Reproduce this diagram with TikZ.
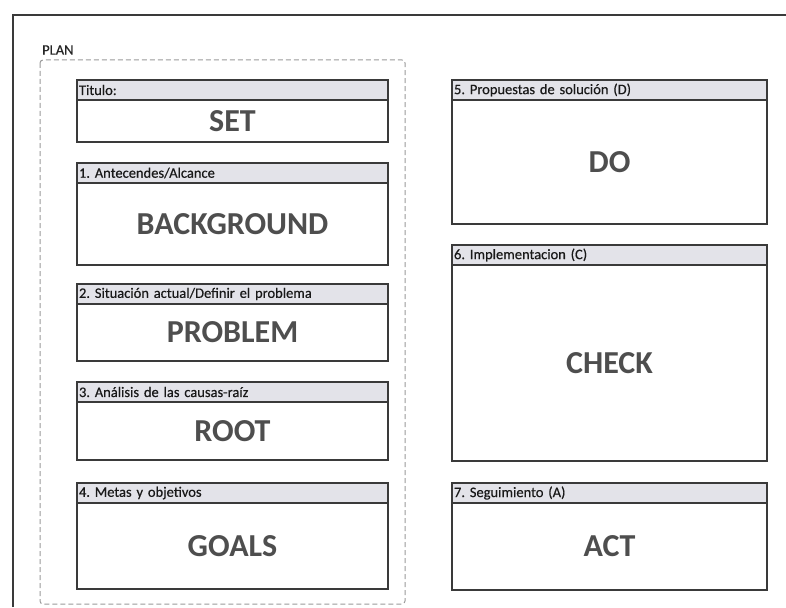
\documentclass[tikz,border=0pt]{standalone}
\usepackage{fontspec}
\setmainfont{Carlito}
\newfontfamily\headfont{Carlito}[FakeBold=0.4]
\usetikzlibrary{positioning}
\definecolor{framegray}{HTML}{3A3A3A}
\definecolor{dashgray}{HTML}{9A9A9A}
\definecolor{headfill}{HTML}{E3E3E9}
\definecolor{bigtext}{HTML}{4E4E4E}
\frenchspacing
\begin{document}
\begin{tikzpicture}[x=1pt,y=-1pt,
		head/.style={draw=framegray, fill=headfill, line width=1.2pt, outer sep=0pt, anchor=north west,
			minimum height=20pt, inner xsep=2pt, inner ysep=0pt, align=left,
			font=\headfont\fontsize{14.5}{16}\selectfont, text=black!90},
		lhead/.style={head, text width=307pt},
		rhead/.style={head, text width=311pt},
		body/.style={draw=framegray, line width=1.2pt, outer sep=0pt, inner sep=0pt,
			font=\fontsize{32}{34}\selectfont\bfseries, text=bigtext},
		lbody/.style={body, minimum width=311pt},
		rbody/.style={body, minimum width=315pt},
		plan/.style={draw=dashgray, line width=1pt, dash pattern=on 5pt off 3pt, rounded corners=3pt},
	]
			\def\LeftX{77}
			\def\RightX{452}
			\useasboundingbox (0,0) rectangle (786,607);
				\draw[framegray, line width=1.3pt] (13,607) -- (13,15) -- (786,15);
				\draw[plan] (40,60) rectangle (405,604);
				\node[anchor=west, inner sep=0pt, font=\headfont\fontsize{14.5}{16}\selectfont, text=black!85] (planL) at (42,50) {PLAN};

				\node[lhead] (setH) at (\LeftX,80) {Titulo:};
				\node[lbody, minimum height=42pt, below=0pt of setH] (setB) {SET};
				\node[lhead] (bgH) at (\LeftX,163) {1. Antecendes/Alcance};
				\node[lbody, minimum height=82pt, below=0pt of bgH] (bgB) {BACKGROUND};
				\node[lhead] (probH) at (\LeftX,284) {2. Situación actual/Definir el problema};
				\node[lbody, minimum height=57pt, below=0pt of probH] (probB) {PROBLEM};
				\node[lhead] (rootH) at (\LeftX,382) {3. Análisis de las causas-raíz};
				\node[lbody, minimum height=58pt, below=0pt of rootH] (rootB) {ROOT};
				\node[lhead] (goalH) at (\LeftX,483) {4. Metas y objetivos};
				\node[lbody, minimum height=86pt, below=0pt of goalH] (goalB) {GOALS};

				\node[rhead] (doH) at (\RightX,80) {5. Propuestas de solución (D)};
				\node[rbody, minimum height=124pt, below=0pt of doH] (doB) {DO};
				\node[rhead] (checkH) at (\RightX,245) {6. Implementacion (C)};
				\node[rbody, minimum height=196pt, below=0pt of checkH] (checkB) {CHECK};
				\node[rhead] (actH) at (\RightX,483) {7. Seguimiento (A)};
				\node[rbody, minimum height=87pt, below=0pt of actH] (actB) {ACT};
		\end{tikzpicture}
\end{document}
